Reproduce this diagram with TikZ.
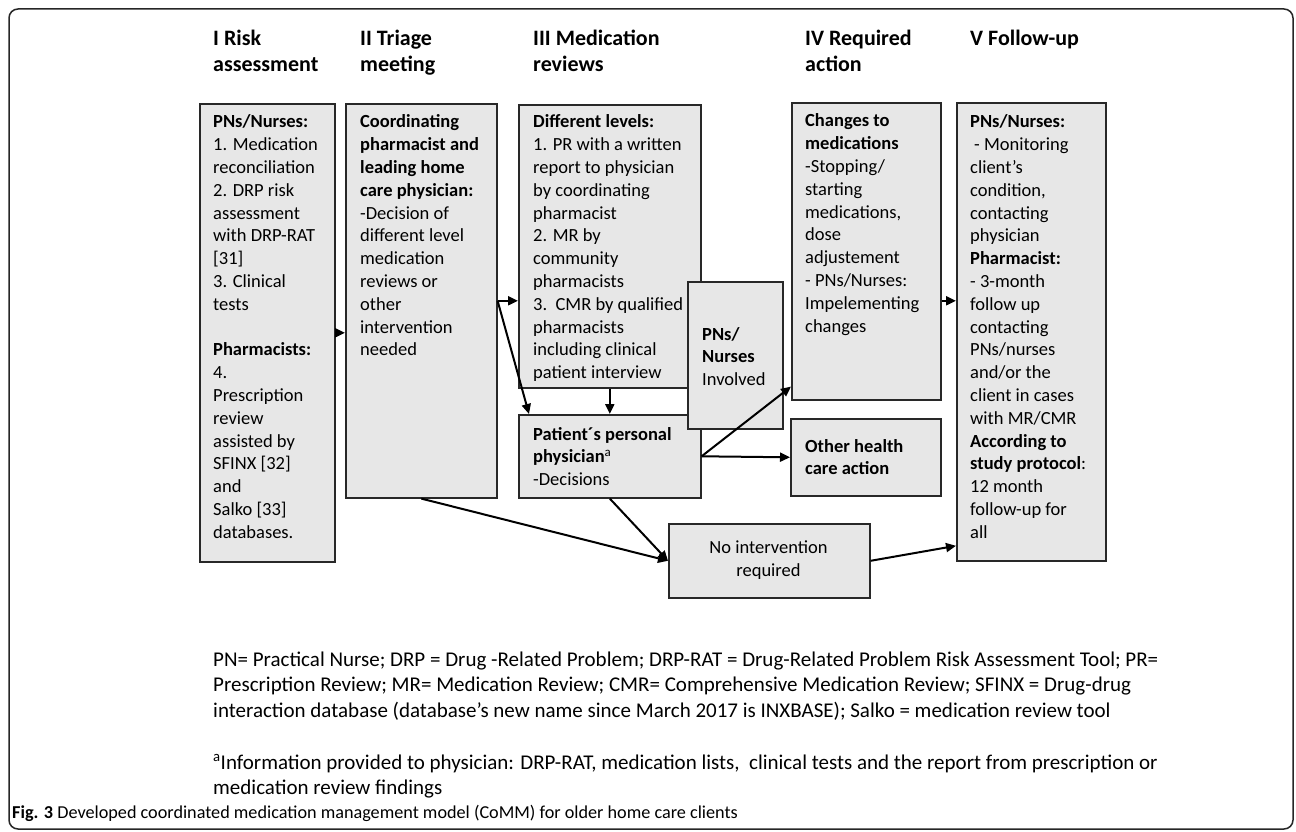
\documentclass[tikz,border=0pt]{standalone}
\usepackage{fontspec}
\setmainfont{Carlito}
\usetikzlibrary{arrows.meta}
\definecolor{boxfill}{RGB}{231,231,231}
\definecolor{boxline}{RGB}{40,40,40}
\newcommand\bxf{\fontsize{18.5}{22.8}\selectfont}
\newcommand\hdf{\fontsize{22}{26}\bfseries\selectfont}
\newcommand\fnf{\fontsize{21}{25.5}\selectfont}
\begin{document}
\begin{tikzpicture}[x=1pt,y=-1pt,
  box/.style={draw=boxline,fill=boxfill,line width=1.6pt,inner sep=0pt,anchor=north west,rectangle},
  txt/.style={anchor=base west,inner sep=0pt},
  arr/.style={draw=black,line width=2pt,-{Triangle[length=10pt,width=9pt]}}]
\useasboundingbox (0,0) rectangle (1296,832);
\draw[line width=1.5pt,rounded corners=9pt,draw=black!85] (9,9) rectangle (1293,829);
% headers
\node[txt] (h1) at (213,46) {\parbox[t]{140pt}{\hdf I Risk\\assessment}};
\node[txt] (h2) at (360,46) {\parbox[t]{140pt}{\hdf II Triage\\meeting}};
\node[txt] (h3) at (533,46) {\parbox[t]{200pt}{\hdf III Medication\\reviews}};
\node[txt] (h4) at (805,46) {\parbox[t]{140pt}{\hdf IV Required\\action}};
\node[txt] (h5) at (970,46) {\parbox[t]{160pt}{\hdf V Follow-up}};
% boxes
\node[box,minimum width=135pt,minimum height=458pt] (b1) at (199,103) {};
\node[box,minimum width=151pt,minimum height=394pt] (b2) at (345,103) {};
\node[box,minimum width=182pt,minimum height=283pt] (b3) at (518,104) {};
\node[box,minimum width=182pt,minimum height=83pt] (pat) at (518,414) {};
\node[box,minimum width=149pt,minimum height=297pt] (b4) at (791,102) {};
\node[box,minimum width=150pt,minimum height=77pt] (oth) at (790,418) {};
\node[box,minimum width=149pt,minimum height=458pt] (b5) at (956,102) {};
\node[box,minimum width=201pt,minimum height=74pt] (ni) at (668,523) {};
% box texts
\node[txt] (t1) at (213,128) {\parbox[t]{300pt}{\bxf\textbf{PNs/Nurses:}\\1. Medication\\reconciliation\\2. DRP risk\\assessment\\with DRP-RAT\\{[31]}\\3. Clinical\\tests\\\mbox{}\\\textbf{Pharmacists:}\\4.\\Prescription\\review\\assisted by\\SFINX [32]\\and\\Salko [33]\\databases.}};
\node[txt] (t2) at (360,128) {\parbox[t]{300pt}{\bxf\textbf{Coordinating}\\\textbf{pharmacist and}\\\textbf{leading home}\\\textbf{care physician:}\\-Decision of\\different level\\medication\\reviews or\\other\\intervention\\needed}};
\node[txt] (t3) at (533,128) {\parbox[t]{300pt}{\bxf\textbf{Different levels:}\\1. PR with a written\\report to physician\\by coordinating\\pharmacist\\2. MR by\\community\\pharmacists\\3.\ \ CMR by qualified\\pharmacists\\including clinical\\patient interview}};
\node[box,minimum width=95pt,minimum height=147pt] (pn) at (687,281) {};
\node[txt] (tpn) at (702,340) {\parbox[t]{100pt}{\bxf\textbf{PNs/}\\\textbf{Nurses}\\Involved}};
\node[txt] (tpat) at (533,440) {\parbox[t]{300pt}{\bxf\textbf{Patient´s personal}\\\textbf{physician}\textsuperscript{a}\\-Decisions}};
\node[txt] (t4) at (805,127) {\parbox[t]{300pt}{\bxf\textbf{Changes to}\\\textbf{medications}\\-Stopping/\\starting\\medications,\\dose\\adjustement\\- PNs/Nurses:\\Impelementing\\changes}};
\node[txt] (toth) at (805,452) {\parbox[t]{300pt}{\bxf\textbf{Other health}\\\textbf{care action}}};
\node[txt] (t5) at (970,128) {\parbox[t]{300pt}{\bxf\textbf{PNs/Nurses:}\\\hspace*{4pt}- Monitoring\\client’s\\condition,\\contacting\\physician\\\textbf{Pharmacist:}\\- 3-month\\follow up\\contacting\\PNs/nurses\\and/or the\\client in cases\\with MR/CMR\\\textbf{According to}\\\textbf{study protocol}:\\12 month\\follow-up for\\all}};
\node[anchor=center,align=center,inner sep=0pt,font=\bxf] (tni) at (768.5,560) {No intervention\\required};
% arrows
\draw[arr] (b1.east) -- (b2.west |- b1.east);
\draw[arr] (b2.east) -- (b3.west |- b2.east);
\draw[arr] (b2.east) -- ([xshift=11pt]pat.north west);
\draw[arr] (b3.south) -- (pat.north);
\draw[arr] (pat.east) -- (oth.west);
\draw[arr] (pat.east) -- ([yshift=14pt]b4.south west);
\draw[arr] ([yshift=-49.5pt]b4.east) coordinate (c45) -- (c45 -| b5.west);
\draw[arr] (b2.south) -- (ni.west);
\draw[arr] (pat.south) -- (ni.west);
\draw[arr] (ni.east) -- ([yshift=-214pt]b5.west);
% footnotes
\node[txt] (fn1) at (213,666) {\parbox[t]{1100pt}{\fnf PN= Practical Nurse; DRP = Drug -Related Problem; DRP-RAT = Drug-Related Problem Risk Assessment Tool; PR=\\Prescription Review; MR= Medication Review; CMR= Comprehensive Medication Review; SFINX = Drug-drug\\interaction database (database’s new name since March 2017 is INXBASE); Salko = medication review tool}};
\node[txt] (fn2) at (213,769) {\parbox[t]{1100pt}{\fnf\textsuperscript{a}Information provided to physician: DRP-RAT, medication lists,\ \ clinical tests and the report from prescription or\\medication review findings}};
\node[txt] (cap) at (12,818) {\fontsize{18.2}{22}\selectfont\textbf{Fig. 3} Developed coordinated medication management model (CoMM) for older home care clients};
\end{tikzpicture}
\end{document}
